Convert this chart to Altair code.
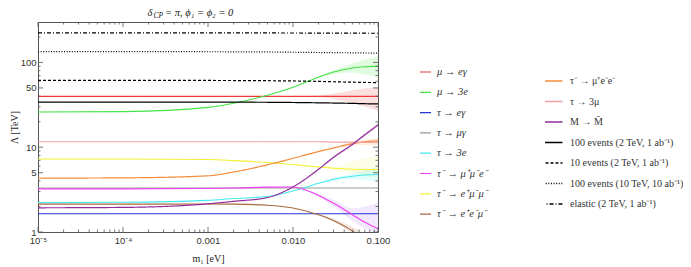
import altair as alt
import pandas as pd

# ---------------- data ----------------
M = [1e-5, 1e-4, 1e-3, 0.002, 0.005, 0.01, 0.02, 0.03, 0.05, 0.07, 0.1]

col1 = ["μ → eγ", "μ → 3e", "τ → eγ", "τ → μγ", "τ → 3e",
        "τ⁻ → μ⁺μ⁻e⁻", "τ⁻ → e⁺μ⁻μ⁻", "τ⁻ → e⁺e⁻μ⁻"]
col1_colors = ["#ee3a3a", "#44e444", "#2434d4", "#9a9a9a", "#44eaf2",
               "#f03cf0", "#f4ef34", "#a8683c"]

col2 = ["τ⁻ → μ⁺e⁻e⁻", "τ → 3μ", "M → M̄",
        "100 events (2 TeV, 1 ab⁻¹)", "10 events (2 TeV, 1 ab⁻¹)",
        "100 events (10 TeV, 10 ab⁻¹)", "elastic (2 TeV, 1 ab⁻¹)"]
col2_colors = ["#f58c3c", "#f2a2a2", "#922c9c", "#000000", "#000000",
               "#000000", "#000000"]
col2_dash = [[1, 0], [1, 0], [1, 0], [1, 0], [3, 2], [1, 1.6], [4, 2, 1, 2]]

mu_e_gamma = [39.8, 39.8, 39.8, 39.8, 39.8, 39.8, 39.8, 39.8, 39.8, 39.8, 39.8]
mu_3e = [26.0, 26.3, 29.5, 33.0, 41.0, 51.0, 67.0, 77.0, 86.0, 89.0, 90.5]
tau_e_gamma = [1.64, 1.64, 1.64, 1.64, 1.64, 1.64, 1.64, 1.64, 1.64, 1.64, 1.64]
tau_mu_gamma = [3.3, 3.3, 3.3, 3.3, 3.3, 3.3, 3.3, 3.3, 3.3, 3.3, 3.3]
tau_3e = [2.22, 2.24, 2.36, 2.48, 2.62, 3.05, 3.75, 4.2, 4.55, 4.7, 4.76]
tau_mumue = [3.23, 3.23, 3.26, 3.3, 3.38, 3.4, 2.7, 2.18, 1.6, 1.3, 1.09]
tau_emumu = [7.25, 7.25, 7.15, 6.95, 6.6, 6.25, 5.85, 5.65, 5.5, 5.46, 5.45]
tau_eemu = [2.13, 2.13, 2.14, 2.13, 2.07, 1.92, 1.6, 1.37, 1.03, 0.8, 0.55]
tau_muee = [4.32, 4.35, 4.6, 5.1, 6.2, 7.4, 8.9, 9.8, 11.0, 11.6, 11.9]
tau_3mu = [11.6, 11.6, 11.6, 11.6, 11.6, 11.6, 11.6, 11.5, 11.5, 11.4, 11.4]
m_mbar = [1.93, 1.95, 2.15, 2.3, 2.55, 3.4, 5.5, 7.6, 10.8, 14.0, 18.3]
ev100_2tev = [34.1, 34.1, 34.1, 34.0, 33.9, 33.7, 33.4, 33.2, 32.9, 32.6, 32.4]
ev10_2tev = [61.4, 61.4, 61.3, 61.2, 60.9, 60.5, 59.8, 59.2, 58.5, 58.1, 57.8]
ev100_10tev = [134.0, 134.0, 133.8, 133.5, 133.0, 132.0, 131.0, 130.5, 129.8, 129.3, 129.0]
elastic_2tev = [223.0, 223.0, 223.0, 223.0, 222.8, 222.5, 222.0, 221.7, 221.4, 221.2, 221.0]

col1_vals = [mu_e_gamma, mu_3e, tau_e_gamma, tau_mu_gamma, tau_3e,
             tau_mumue, tau_emumu, tau_eemu]
col2_vals = [tau_muee, tau_3mu, m_mbar, ev100_2tev, ev10_2tev,
             ev100_10tev, elastic_2tev]

# uncertainty bands near large m1
band_m = [0.01, 0.02, 0.03, 0.05, 0.07, 0.1]
band_series = ["μ → 3e", "μ → eγ", "τ⁻ → μ⁺e⁻e⁻", "τ⁻ → e⁺μ⁻μ⁻", "τ → 3e",
               "τ⁻ → μ⁺μ⁻e⁻", "τ⁻ → e⁺e⁻μ⁻", "M → M̄"]
band_colors = ["#44e444", "#ee3a3a", "#f58c3c", "#e8f060", "#44eaf2",
               "#b070f0", "#a8683c", "#922c9c"]
band_lo = [
    [51.0, 66.0, 73.0, 76.0, 72.0, 68.0],
    [39.8, 39.0, 37.0, 33.0, 30.0, 27.0],
    [7.4, 8.8, 9.6, 10.5, 10.6, 10.4],
    [6.25, 5.8, 5.4, 4.9, 4.6, 4.4],
    [3.05, 3.7, 4.05, 4.2, 4.1, 3.9],
    [3.4, 2.6, 2.0, 1.35, 1.1, 1.0],
    [1.92, 1.58, 1.32, 0.95, 0.72, 0.5],
    [3.4, 5.4, 7.4, 10.4, 13.4, 17.5],
]
band_hi = [
    [51.0, 68.0, 81.0, 97.0, 108.0, 118.0],
    [39.8, 40.8, 43.0, 47.0, 49.5, 51.0],
    [7.4, 9.0, 10.0, 11.6, 12.2, 12.8],
    [6.25, 5.9, 5.9, 6.8, 7.4, 8.0],
    [3.05, 3.8, 4.35, 4.9, 5.4, 5.8],
    [3.4, 2.8, 2.4, 1.9, 2.0, 2.2],
    [1.92, 1.62, 1.43, 1.15, 0.95, 0.7],
    [3.4, 5.6, 7.8, 11.2, 14.6, 19.2],
]

x_ticks_major = [1e-5, 1e-4, 1e-3, 1e-2, 1e-1]
x_ticks_minor = [k * d for d in [1e-5, 1e-4, 1e-3, 1e-2] for k in range(2, 10)]
y_ticks_major = [1, 5, 10, 50, 100]
y_ticks_minor = [2, 3, 4, 6, 7, 8, 9, 20, 30, 40, 60, 70, 80, 90, 200]

# ---------------- tables ----------------
rows1 = [{"m": m, "L": v, "s1": name}
         for name, vals in zip(col1, col1_vals) for m, v in zip(M, vals)]
rows2 = [{"m": m, "L": v, "s2": name}
         for name, vals in zip(col2, col2_vals) for m, v in zip(M, vals)]
rowsb = [{"m": m, "lo": lo, "hi": hi, "b": name}
         for name, los, his in zip(band_series, band_lo, band_hi)
         for m, lo, hi in zip(band_m, los, his)]
df1 = pd.DataFrame(rows1)
df2 = pd.DataFrame(rows2)
dfb = pd.DataFrame(rowsb)

W, H = 340, 210
FRAME = "#555555"
SERIF = "Liberation Serif"
SANS = "Liberation Sans"

xs = alt.Scale(type="log", domain=[1e-5, 0.1], nice=False)
ys = alt.Scale(type="log", domain=[1, 300], nice=False)

xaxis = alt.Axis(values=x_ticks_major, title="m₁ [eV]",
                 labelExpr="datum.value < 0.00005 ? '10⁻⁵' : (datum.value < 0.0005 ? '10⁻⁴' : format(datum.value, '.3f'))",
                 labelFlush=False, labelOverlap=False)
yaxis = alt.Axis(values=y_ticks_major, title="Λ [TeV]", format="d",
                 labelOverlap=False)

X = alt.X("m:Q", scale=xs, axis=xaxis)

bands = alt.Chart(dfb).mark_area(clip=True, interpolate="monotone",
                                 fillOpacity=0.16).encode(
    x=X,
    y=alt.Y("lo:Q", scale=ys, axis=yaxis),
    y2="hi:Q",
    fill=alt.Fill("b:N", scale=alt.Scale(domain=band_series, range=band_colors),
                  legend=None),
    detail="b:N",
)

lines1 = alt.Chart(df1).mark_line(clip=True, interpolate="monotone",
                                  strokeWidth=1.1).encode(
    x=X,
    y=alt.Y("L:Q", scale=ys, axis=yaxis),
    color=alt.Color("s1:N", scale=alt.Scale(domain=col1, range=col1_colors),
                    legend=alt.Legend(title=None, orient="none", legendX=381,
                                      legendY=44, symbolType="stroke",
                                      symbolSize=121, symbolStrokeWidth=1.2,
                                      labelFont=SERIF, labelFontSize=10.5,
                                      labelFontStyle="italic",
                                      labelColor="#333", rowPadding=8.3,
                                      clipHeight=12,
                                      labelOffset=5, padding=0)),
)

leg2 = dict(title=None, orient="none", legendX=507, legendY=53,
            symbolType="M-2,0H2", symbolSize=121, symbolStrokeWidth=1.3,
            labelFont=SERIF, labelFontSize=10, labelColor="#333",
            rowPadding=8.5, clipHeight=12, labelOffset=12, padding=0)

lines2 = alt.Chart(df2).mark_line(clip=True, interpolate="monotone",
                                  strokeWidth=1.2).encode(
    x=X,
    y=alt.Y("L:Q", scale=ys, axis=yaxis),
    stroke=alt.Stroke("s2:N", scale=alt.Scale(domain=col2, range=col2_colors),
                      legend=alt.Legend(**leg2)),
    strokeDash=alt.StrokeDash("s2:N", scale=alt.Scale(domain=col2, range=col2_dash),
                              legend=alt.Legend(**leg2)),
)

# inward frame ticks
dxM = pd.DataFrame({"v": x_ticks_major})
dxm = pd.DataFrame({"v": x_ticks_minor})
dyM = pd.DataFrame({"v": y_ticks_major})
dym = pd.DataFrame({"v": y_ticks_minor})


def xticks(df, length):
    bottom = alt.Chart(df).mark_rule(color=FRAME, strokeWidth=0.8).encode(
        x=alt.X("v:Q", scale=xs, axis=xaxis), y=alt.value(H), y2=alt.value(H - length))
    top = alt.Chart(df).mark_rule(color=FRAME, strokeWidth=0.8).encode(
        x=alt.X("v:Q", scale=xs, axis=xaxis), y=alt.value(0), y2=alt.value(length))
    return [bottom, top]


def yticks(df, length):
    left = alt.Chart(df).mark_rule(color=FRAME, strokeWidth=0.8).encode(
        y=alt.Y("v:Q", scale=ys, axis=yaxis), x=alt.value(0), x2=alt.value(length))
    right = alt.Chart(df).mark_rule(color=FRAME, strokeWidth=0.8).encode(
        y=alt.Y("v:Q", scale=ys, axis=yaxis), x=alt.value(W), x2=alt.value(W - length))
    return [left, right]


tick_layers = xticks(dxM, 5) + xticks(dxm, 2.5) + yticks(dyM, 5) + yticks(dym, 2.5)

# title pieces (δ_CP = π, ϕ1 = ϕ2 = 0)
t1 = alt.Chart(pd.DataFrame({"t": ["δ"]})).mark_text(
    font=SERIF, fontSize=10.5, fontStyle="italic", align="left", color="#222").encode(
    text="t:N", x=alt.value(109.5), y=alt.value(-9))
t2 = alt.Chart(pd.DataFrame({"t": ["CP"]})).mark_text(
    font=SERIF, fontSize=7.5, fontStyle="italic", align="left", color="#222").encode(
    text="t:N", x=alt.value(115.5), y=alt.value(-6.5))
t3 = alt.Chart(pd.DataFrame({"t": ["= π, ϕ₁ = ϕ₂ = 0"]})).mark_text(
    font=SERIF, fontSize=10.5, fontStyle="italic", align="left", color="#222").encode(
    text="t:N", x=alt.value(127), y=alt.value(-9))

chart = alt.layer(bands, lines1, lines2, *tick_layers, t1, t2, t3).resolve_scale(
    color="independent", stroke="independent", strokeDash="independent", fill="independent"
).properties(
    width=W, height=H,
    autosize=alt.AutoSizeParams(type="none"),
    padding={"left": 30, "top": 14, "right": 305, "bottom": 40},
).configure_view(
    stroke=FRAME, strokeWidth=1
).configure_axis(
    ticks=False, domain=False, grid=False,
    labelFont=SANS, labelFontSize=9.5, labelColor="#333",
    titleFont=SERIF, titleFontSize=10, titleColor="#222", titleFontWeight="normal",
).configure_axisX(
    labelPadding=3, titlePadding=9,
).configure_axisY(
    labelPadding=2, titlePadding=1,
)

chart.save("out.html", embed_options={"renderer": "svg", "actions": False})
